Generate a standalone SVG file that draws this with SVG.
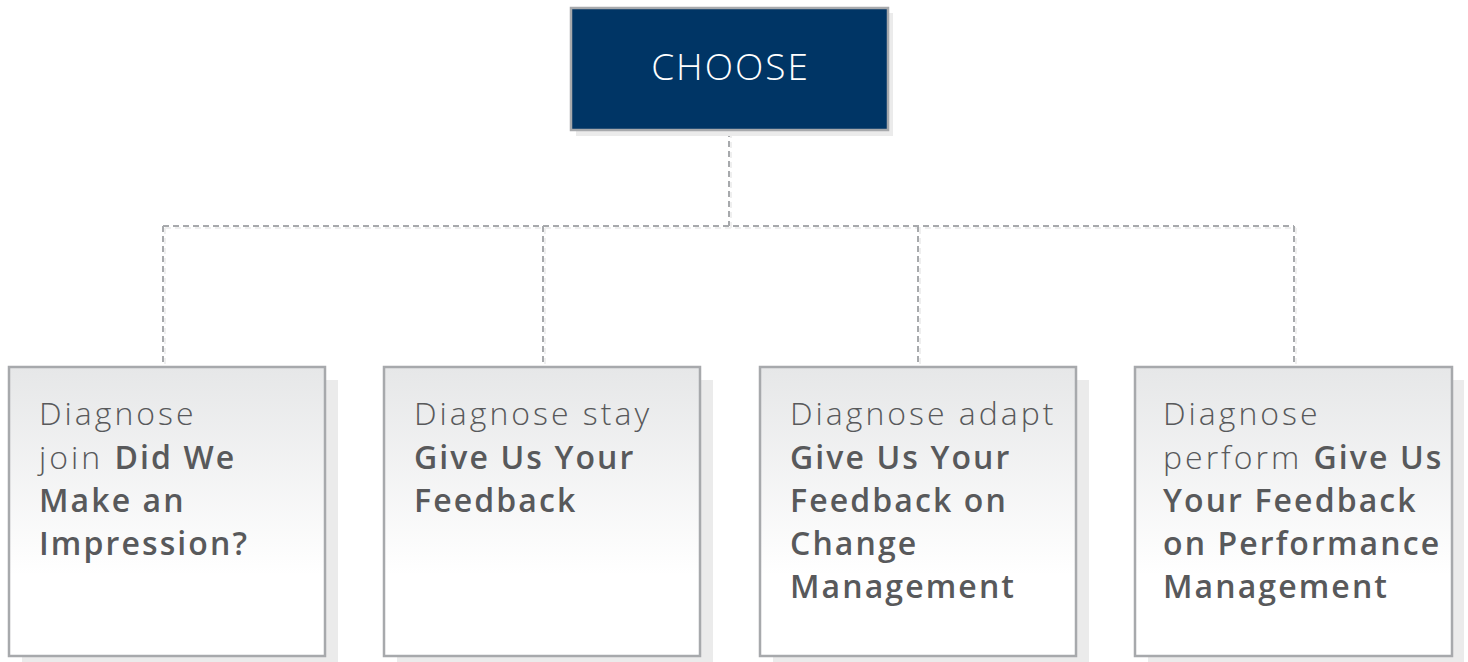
<svg xmlns="http://www.w3.org/2000/svg" width="1468" height="662" viewBox="0 0 1468 662">
<defs>
<linearGradient id="boxg" x1="0" y1="0" x2="0" y2="1">
<stop offset="0" stop-color="#e6e7e8"/>
<stop offset="0.72" stop-color="#ffffff"/>
<stop offset="1" stop-color="#ffffff"/>
</linearGradient>
</defs>
<style>
.shadow{fill:#ebebeb}
.box{fill:url(#boxg);stroke:#a7a9ac;stroke-width:2.5}
.top{fill:#003565;stroke:#a7a9ac;stroke-width:2.5}
.conn{fill:none;stroke:#a7a9ac;stroke-width:2;stroke-dasharray:6 4}
.connsh{fill:none;stroke:#efefef;stroke-width:2;stroke-dasharray:6 4}
.t{font-family:"Open Sans",Lato,sans-serif;font-size:32px;fill:#58595b;font-weight:300;letter-spacing:3px}
.b{font-weight:600;letter-spacing:2.1px}
.ct{font-family:"Open Sans",Lato,sans-serif;font-size:37px;fill:#ffffff;font-weight:300;letter-spacing:2px}
</style>
<g id="connectors">
<path class="connsh" d="M731 132 V228 M165 228 H1296 M165 228 V367 M545 228 V367 M920 228 V367 M1296 228 V367"/>
<path class="conn" d="M729 131 V226 M163 226 H1294 M163 226 V367 M543 226 V367 M918 226 V367 M1294 226 V367"/>
</g>
<g id="choose">
<rect class="shadow" x="576" y="13" width="317" height="123"/>
<rect class="top" x="571" y="8" width="317" height="122"/>
<text class="ct" x="730.5" y="80" text-anchor="middle">CHOOSE</text>
</g>
<g id="join">
<rect class="shadow" x="22" y="380" width="316" height="282"/>
<rect class="box" x="9" y="367" width="316" height="289"/>
<text class="t" x="39" y="425">Diagnose</text>
<text class="t" x="39" y="469">join <tspan class="b">Did We</tspan></text>
<text class="t b" x="39" y="512">Make an</text>
<text class="t b" x="39" y="555">Impression?</text>
</g>
<g id="stay">
<rect class="shadow" x="397" y="380" width="316" height="282"/>
<rect class="box" x="384" y="367" width="316" height="289"/>
<text class="t" x="414" y="425">Diagnose stay</text>
<text class="t b" x="414" y="469">Give Us Your</text>
<text class="t b" x="414" y="512">Feedback</text>
</g>
<g id="adapt">
<rect class="shadow" x="773" y="380" width="316" height="282"/>
<rect class="box" x="760" y="367" width="316" height="289"/>
<text class="t" x="790" y="425">Diagnose adapt</text>
<text class="t b" x="790" y="469">Give Us Your</text>
<text class="t b" x="790" y="512">Feedback on</text>
<text class="t b" x="790" y="555">Change</text>
<text class="t b" x="790" y="598">Management</text>
</g>
<g id="perform">
<rect class="shadow" x="1148" y="380" width="316" height="282"/>
<rect class="box" x="1135" y="367" width="317" height="289"/>
<text class="t" x="1163" y="425">Diagnose</text>
<text class="t" x="1163" y="469">perform <tspan class="b">Give Us</tspan></text>
<text class="t b" x="1163" y="512">Your Feedback</text>
<text class="t b" x="1163" y="555">on Performance</text>
<text class="t b" x="1163" y="598">Management</text>
</g>
</svg>
